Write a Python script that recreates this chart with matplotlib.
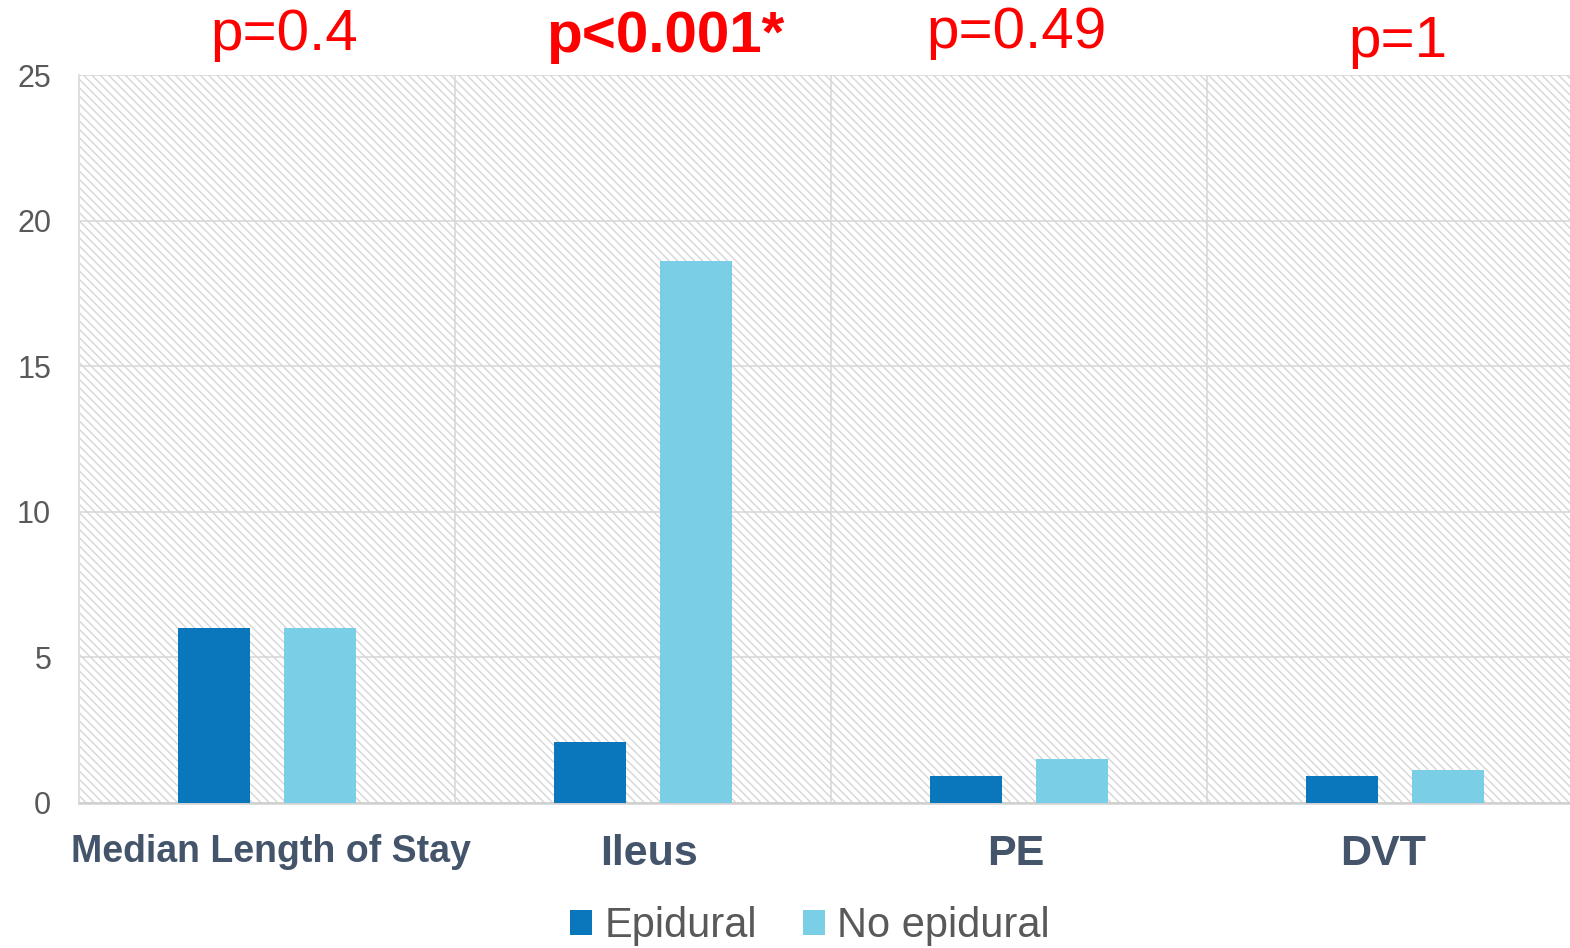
import matplotlib
matplotlib.use("Agg")
import matplotlib.pyplot as plt
from matplotlib.patches import Rectangle, Patch
from matplotlib.transforms import ScaledTranslation, blended_transform_factory
import numpy as np

categories = ["Median Length of Stay", "Ileus", "PE", "DVT"]
epidural = [6.0, 2.1, 0.93, 0.93]
no_epidural = [6.0, 18.6, 1.5, 1.13]
p_values = ["p=0.4", "p<0.001*", "p=0.49", "p=1"]
p_bold = [False, True, False, False]
series_names = ["Epidural", "No epidural"]
yticks = [0, 5, 10, 15, 20, 25]

plt.rcParams['font.family'] = ['Liberation Sans', 'DejaVu Sans']
plt.rcParams['hatch.linewidth'] = 1.0

W, H = 1570, 948
fig = plt.figure(figsize=(W / 100, H / 100), dpi=100)
ax = fig.add_axes([79 / W, 1 - 803 / H, 1504 / W, (803 - 75) / H])

# hatched background
bg = Rectangle((0, 0), 1, 1, transform=ax.transAxes, facecolor='white',
               edgecolor='#d6d6d6', hatch='\\\\\\\\', lw=0, zorder=0)
ax.add_patch(bg)
ax.patch.set_visible(False)

x = np.arange(len(categories))
bw = 0.194
off = 0.141
c1, c2 = '#0A77BD', '#7ACFE6'
ax.bar(x - off, epidural, bw, color=c1, lw=0, zorder=3)
ax.bar(x + off, no_epidural, bw, color=c2, lw=0, zorder=3)

ax.set_xlim(-0.5, 3.5)
ax.set_ylim(0, 25)
ax.set_yticks(yticks)
ax.set_yticklabels([str(t) for t in yticks], fontsize=22, color='#595959')
ax.tick_params(axis='y', length=0, pad=20)

# category labels (drawn as text so they can be nudged like the original)
ax.set_xticks(x)
ax.set_xticklabels([])
ax.tick_params(axis='x', length=0)
blend = blended_transform_factory(ax.transData, ax.transAxes)
sizes = [27, 31, 31, 31]
shifts = [4, 6, -3, -12]  # pixel nudges
for xi, name, s, dx in zip(x, categories, sizes, shifts):
    tr = blend + ScaledTranslation(dx / 100, -31 / 100, fig.dpi_scale_trans)
    ax.text(xi, 0, name, transform=tr, ha='center', va='top', fontsize=s,
            fontweight='bold', color='#44546A')

ax.set_xticks([0.5, 1.5, 2.5], minor=True)
ax.tick_params(axis='x', which='minor', length=0)
ax.grid(True, axis='y', which='major', color='#d9d9d9', lw=1.2, zorder=1)
ax.grid(True, axis='x', which='minor', color='#d9d9d9', lw=1.2, zorder=1)
ax.grid(False, axis='x', which='major')
ax.set_axisbelow(True)

for s in ['top', 'right']:
    ax.spines[s].set_visible(False)
ax.spines['left'].set_color('#d9d9d9')
ax.spines['left'].set_linewidth(1.2)
ax.spines['bottom'].set_color('#d0d0d0')
ax.spines['bottom'].set_linewidth(1.8)

# p-value annotations
p_pos = [(284, 50), (665, 52), (1016, 48), (1398, 57)]
for txt, b, (px, py) in zip(p_values, p_bold, p_pos):
    fig.text(px / W, 1 - py / H, txt, ha='center', va='baseline', color='#FF0000',
             fontsize=42, fontweight='bold' if b else 'normal')

handles = [Patch(facecolor=c1, lw=0), Patch(facecolor=c2, lw=0)]
leg = fig.legend(handles, series_names, loc='center', ncol=2,
                 bbox_to_anchor=(810 / W, 1 - 926 / H), frameon=False,
                 fontsize=30, handlelength=0.53, handleheight=0.53,
                 handletextpad=0.3, columnspacing=1.1, borderpad=0.1)
for t in leg.get_texts():
    t.set_color('#595959')

fig.savefig('out.png', dpi=100)
